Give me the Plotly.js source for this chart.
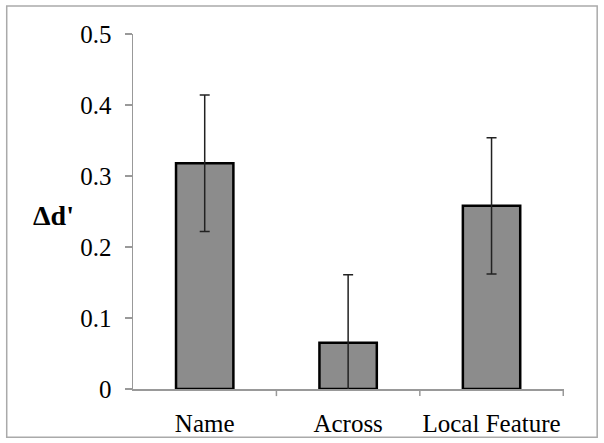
<!DOCTYPE html>
<html>
<head>
<meta charset="utf-8">
<script src="https://cdn.plot.ly/plotly-3.0.1.min.js"></script>
<style>
  html, body { margin: 0; padding: 0; background: #fff; }
  #plot { width: 604px; height: 443px; }
</style>
</head>
<body>
<div id="plot"></div>
<script>
// conditions and their effect sizes (delta d')
var conditions = ["Name", "Across", "Local Feature"];
var deltaD = [0.318, 0.065, 0.258];
var errors = [0.096, 0.096, 0.096];
var yTicks = [0, 0.1, 0.2, 0.3, 0.4, 0.5];

var trace = {
  x: conditions,
  y: deltaD,
  type: "bar",
  width: 0.4,
  marker: { color: "#8c8c8c", line: { color: "#000", width: 2.5 } },
  error_y: { type: "data", array: errors, visible: true, color: "#222", thickness: 1.5, width: 5 },
  hoverinfo: "none"
};

var layout = {
  width: 604,
  height: 443,
  margin: { l: 133, r: 40, t: 34, b: 54 },
  paper_bgcolor: "#fff",
  plot_bgcolor: "#fff",
  showlegend: false,
  font: { family: "Liberation Serif, Times New Roman, serif", size: 25, color: "#000" },
  xaxis: {
    showline: true, linecolor: "#999", linewidth: 1.5,
    ticks: "", showgrid: false, zeroline: false,
    tickfont: { size: 25 }, ticklabelstandoff: 11
  },
  yaxis: {
    range: [0, 0.5],
    tickvals: yTicks,
    ticktext: yTicks.map(v => v === 0 ? "0" : v.toFixed(1)),
    showline: true, linecolor: "#999", linewidth: 1.5,
    ticks: "outside", ticklen: 7, tickcolor: "#999", tickwidth: 1.5,
    showgrid: false, zeroline: false,
    tickfont: { size: 25 }, ticklabelstandoff: 8
  },
  annotations: [
    { text: "<b>Δd'</b>", xref: "paper", yref: "paper", x: -0.185, y: 0.49,
      xanchor: "center", yanchor: "middle", showarrow: false,
      font: { size: 28, family: "Liberation Serif, serif" } }
  ],
  shapes: [
    // outer chart frame
    { type: "rect", xref: "paper", yref: "paper", x0: -0.293, x1: 1.077, y0: -0.136, y1: 1.079,
      line: { color: "#aaa", width: 1.5 }, fillcolor: "rgba(0,0,0,0)", layer: "below" },
    // category separator ticks
    { type: "line", xref: "x", yref: "paper", x0: 0.5, x1: 0.5, y0: 0, y1: -0.02, line: { color: "#999", width: 1.5 } },
    { type: "line", xref: "x", yref: "paper", x0: 1.5, x1: 1.5, y0: 0, y1: -0.02, line: { color: "#999", width: 1.5 } },
    { type: "line", xref: "x", yref: "paper", x0: 2.5, x1: 2.5, y0: 0, y1: -0.02, line: { color: "#999", width: 1.5 } }
  ]
};

Plotly.newPlot("plot", [trace], layout, { displayModeBar: false, staticPlot: true });
</script>
</body>
</html>
